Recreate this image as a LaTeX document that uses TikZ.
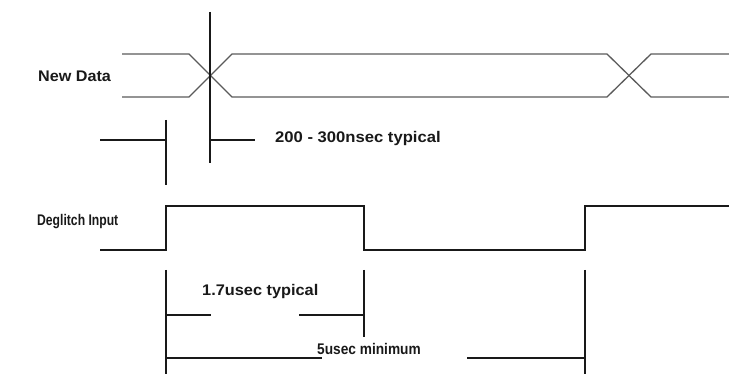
\documentclass[tikz,border=0pt]{standalone}
\usepackage{fontspec}
\setmainfont{Liberation Sans}
\usepackage{xcolor}
\usetikzlibrary{positioning}
\definecolor{datagray}{RGB}{90,90,90}
\definecolor{inkblack}{RGB}{25,25,25}
\newcommand\widen[2]{\scalebox{#1}[1]{#2}}

\begin{document}
\begin{tikzpicture}[
          x=1pt, y=-1pt,
          wave/.style={line width=1.3pt, color=inkblack},
          bus/.style={line width=1.3pt, color=datagray},
          marker/.style={line width=1.2pt, color=inkblack},
          lbl/.style={font=\fontsize{15.4}{17}\selectfont\bfseries, text=inkblack,
            inner sep=0pt, anchor=west}
        ]
          \useasboundingbox (0,0) rectangle (729,374);

          % signal names
          \node[lbl] (newdata)  at (38,76)  {\widen{1.05}{New Data}};
          \node[lbl] (deglitch) at (37,222) {\widen{0.79}{Deglitch Input}};

          % data bus with two crossings
          \draw[bus] (122,54) -- (189,54) -- (232,97) -- (607,97) -- (651,54) -- (729,54);
          \draw[bus] (122,97) -- (189,97) -- (232,54) -- (607,54) -- (651,97) -- (729,97);

          % deglitch input
          \draw[wave] (100,250) -- (166,250) -- (166,206) -- (364,206) -- (364,250)
                      -- (585,250) -- (585,206) -- (729,206);

          % 200 - 300nsec
          \coordinate (ns1) at (166,140);
          \coordinate (ns2) at (210,140);
          \node[lbl] (nstext) at (275,139) {\widen{1.08}{200 - 300nsec typical}};
          \draw[marker] (210,12) -- (210,163);
          \draw[marker] (166,120) -- (166,185);
          \draw[marker] (100,140) -- (ns1);
          \draw[marker] (ns2) -- (255,140);

          % 1.7usec typical
          \node[lbl] (ustext) at (202,292) {\widen{1.06}{1.7usec typical}};
          \coordinate (us1) at (166,315);
          \coordinate (us2) at (364,315);
          \draw[marker] (166,270) -- (166,374);
          \draw[marker] (364,270) -- (364,337);
          \draw[marker] (us1) -- (211,315);
          \draw[marker] (299,315) -- (us2);

          % 5usec minimum
          \node[lbl] (mintext) at (317,349) {\widen{0.89}{5usec minimum}};
          \coordinate (mn1) at (166,358);
          \coordinate (mn2) at (585,358);
          \draw[marker] (585,270) -- (585,374);
          \draw[marker] (mn1) -- (322,358);
          \draw[marker] (467,358) -- (mn2);
        \end{tikzpicture}
\end{document}
